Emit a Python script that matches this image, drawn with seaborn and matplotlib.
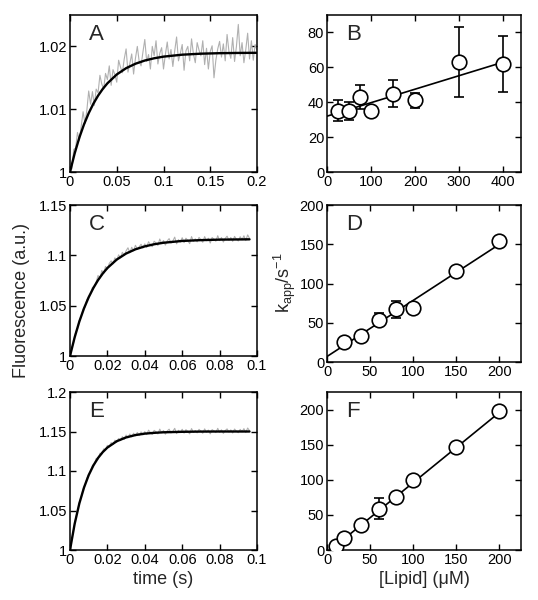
import numpy as np
import pandas as pd
import matplotlib
matplotlib.use('Agg')
import matplotlib.pyplot as plt
import seaborn as sns

# --- panel A: trace (0 - 0.2 s) ---
a_trace = [1.0005, 1.0005, 1.0036, 1.0038, 1.0063, 1.0050, 1.0073, 1.0096, 1.0077, 1.0098,
           1.0129, 1.0108, 1.0128, 1.0106, 1.0132, 1.0126, 1.0154, 1.0140, 1.0132, 1.0157,
           1.0147, 1.0169, 1.0138, 1.0163, 1.0155, 1.0143, 1.0178, 1.0167, 1.0158, 1.0180,
           1.0196, 1.0159, 1.0173, 1.0188, 1.0156, 1.0181, 1.0200, 1.0176, 1.0169, 1.0191,
           1.0211, 1.0176, 1.0187, 1.0164, 1.0200, 1.0185, 1.0209, 1.0172, 1.0189, 1.0198,
           1.0164, 1.0187, 1.0207, 1.0180, 1.0195, 1.0168, 1.0193, 1.0215, 1.0177, 1.0189,
           1.0203, 1.0162, 1.0193, 1.0200, 1.0177, 1.0212, 1.0188, 1.0174, 1.0206, 1.0194,
           1.0185, 1.0209, 1.0171, 1.0197, 1.0164, 1.0192, 1.0201, 1.0150, 1.0178, 1.0196,
           1.0208, 1.0183, 1.0204, 1.0177, 1.0219, 1.0192, 1.0181, 1.0214, 1.0176, 1.0200,
           1.0235, 1.0185, 1.0206, 1.0174, 1.0195, 1.0221, 1.0180, 1.0209, 1.0178, 1.0203,
           1.0194]
a_fit_t = [0, 0.005, 0.01, 0.015, 0.02, 0.025, 0.03, 0.035, 0.04, 0.05, 0.06, 0.07,
           0.08, 0.09, 0.10, 0.12, 0.14, 0.16, 0.18, 0.20]
a_fit = [1.0, 1.00297, 1.00548, 1.00759, 1.00937, 1.01088, 1.01215, 1.01322, 1.01412,
         1.01553, 1.01653, 1.01724, 1.01775, 1.01811, 1.01837, 1.01868, 1.01884, 1.01892,
         1.01896, 1.01898]

# --- panel C: trace (0 - 0.096 s) ---
c_trace = [1.0005, 1.0085, 1.0140, 1.0235, 1.0270, 1.0355, 1.0390, 1.0465, 1.0485, 1.0560,
           1.0590, 1.0615, 1.0680, 1.0690, 1.0735, 1.0800, 1.0770, 1.0850, 1.0820, 1.0890,
           1.0862, 1.0920, 1.0945, 1.0915, 1.0975, 1.0950, 1.1005, 1.0975, 1.1030, 1.1000,
           1.1045, 1.1075, 1.1025, 1.1080, 1.1045, 1.1100, 1.1060, 1.1085, 1.1110, 1.1072,
           1.1114, 1.1078, 1.1135, 1.1106, 1.1086, 1.1140, 1.1123, 1.1098, 1.1162, 1.1117,
           1.1147, 1.1102, 1.1143, 1.1166, 1.1121, 1.1143, 1.1181, 1.1114, 1.1156, 1.1131,
           1.1175, 1.1126, 1.1170, 1.1146, 1.1116, 1.1186, 1.1139, 1.1164, 1.1134, 1.1178,
           1.1155, 1.1130, 1.1186, 1.1145, 1.1170, 1.1122, 1.1177, 1.1159, 1.1140, 1.1195,
           1.1146, 1.1177, 1.1132, 1.1168, 1.1190, 1.1149, 1.1177, 1.1139, 1.1188, 1.1160,
           1.1143, 1.1185, 1.1154, 1.1194, 1.1147, 1.1203, 1.1169]
c_fit_t = [0, 0.0025, 0.005, 0.0075, 0.01, 0.0125, 0.015, 0.0175, 0.02, 0.025, 0.03,
           0.035, 0.04, 0.045, 0.05, 0.06, 0.07, 0.08, 0.096]
c_fit = [1.0, 1.0186, 1.0343, 1.0474, 1.0584, 1.0676, 1.0754, 1.0819, 1.0874, 1.0958,
         1.1018, 1.1060, 1.1089, 1.1110, 1.1125, 1.1143, 1.1151, 1.1156, 1.1159]

# --- panel E: trace (0 - 0.096 s) ---
e_trace = [1.0008, 1.0150, 1.0265, 1.0400, 1.0490, 1.0605, 1.0670, 1.0770, 1.0820, 1.0905,
           1.0960, 1.0990, 1.1070, 1.1085, 1.1160, 1.1150, 1.1225, 1.1215, 1.1280, 1.1265,
           1.1325, 1.1305, 1.1360, 1.1335, 1.1390, 1.1365, 1.1412, 1.1385, 1.1435, 1.1400,
           1.1455, 1.1420, 1.1468, 1.1432, 1.1478, 1.1445, 1.1488, 1.1450, 1.1495, 1.1458,
           1.1498, 1.1461, 1.1517, 1.1486, 1.1463, 1.1514, 1.1496, 1.1469, 1.1530, 1.1484,
           1.1512, 1.1466, 1.1507, 1.1529, 1.1482, 1.1502, 1.1540, 1.1473, 1.1515, 1.1490,
           1.1528, 1.1479, 1.1523, 1.1499, 1.1470, 1.1537, 1.1489, 1.1512, 1.1483, 1.1527,
           1.1503, 1.1478, 1.1533, 1.1492, 1.1518, 1.1470, 1.1524, 1.1506, 1.1486, 1.1540,
           1.1490, 1.1521, 1.1476, 1.1512, 1.1533, 1.1492, 1.1520, 1.1481, 1.1531, 1.1503,
           1.1485, 1.1527, 1.1496, 1.1536, 1.1488, 1.1544, 1.1510]
e_fit_t = [0, 0.0025, 0.005, 0.0075, 0.01, 0.0125, 0.015, 0.0175, 0.02, 0.025, 0.03,
           0.035, 0.04, 0.045, 0.05, 0.06, 0.07, 0.08, 0.096]
e_fit = [1.0, 1.0332, 1.0590, 1.0791, 1.0948, 1.1070, 1.1165, 1.1239, 1.1297, 1.1377,
         1.1425, 1.1455, 1.1473, 1.1483, 1.1490, 1.1496, 1.1499, 1.1500, 1.1500]

# --- panels B, D, F: k_app vs lipid ---
b_lipid = [25, 50, 75, 100, 150, 200, 300, 400]
b_kapp = [35, 35, 43, 35, 45, 41, 63, 62]
b_err = [6, 5, 7, 2, 8, 4.5, 20, 16]
b_fit_x = [0, 400]
b_fit_y = [32, 63]

d_lipid = [20, 40, 60, 80, 100, 150, 200]
d_kapp = [25, 33, 54, 67, 69, 116, 154]
d_err = [0, 0, 8, 11, 5, 0, 0]
d_fit_x = [0, 200]
d_fit_y = [7, 150]

f_lipid = [10, 20, 40, 60, 80, 100, 150, 200]
f_kapp = [6, 17, 36, 59, 75, 99, 147, 198]
f_err = [0, 0, 0, 15, 0, 6, 0, 0]
f_fit_x = [8, 200]
f_fit_y = [4, 196]

sns.set_theme(style='ticks')
plt.rcParams['font.family'] = ['Liberation Sans', 'DejaVu Sans']
plt.rcParams['xtick.direction'] = 'in'
plt.rcParams['ytick.direction'] = 'in'
plt.rcParams['xtick.top'] = True
plt.rcParams['ytick.right'] = True
plt.rcParams['axes.unicode_minus'] = False

fig = plt.figure(figsize=(5.38, 6.0), dpi=100)
W, H = 538.0, 600.0


def make_ax(left, right, top, bottom):
    return fig.add_axes([left / W, 1 - bottom / H, (right - left) / W, (bottom - top) / H])


def style(ax, letter):
    for s in ax.spines.values():
        s.set_linewidth(1.1)
        s.set_color('black')
    ax.tick_params(axis='both', which='major', length=4, width=1.0, labelsize=10.5,
                   colors='black', pad=2)
    ax.text(0.1, 0.94, letter, transform=ax.transAxes, fontsize=16, va='top', ha='left')
    ax.set_xlabel('')
    ax.set_ylabel('')


def trace_panel(ax, trace, t_end, fit_t, fit_y):
    t = np.linspace(0, t_end, len(trace))
    sns.lineplot(x=t, y=trace, ax=ax, color='#b0b0b0', linewidth=0.8)
    sns.lineplot(x=fit_t, y=fit_y, ax=ax, color='black', linewidth=1.7)


def kapp_panel(ax, lipid, kapp, err, fit_x, fit_y):
    sns.lineplot(x=fit_x, y=fit_y, ax=ax, color='black', linewidth=1.2)
    e = np.array(err, dtype=float)
    m = e > 0
    ax.errorbar(np.array(lipid)[m], np.array(kapp)[m], yerr=e[m], fmt='none',
                ecolor='black', elinewidth=1.2, capsize=3.5, capthick=1.2, zorder=3)
    sns.scatterplot(x=lipid, y=kapp, ax=ax, s=110, facecolor='white',
                    edgecolor='black', linewidth=1.2, zorder=4)


axA = make_ax(70, 257, 15, 172)
trace_panel(axA, a_trace, 0.2, a_fit_t, a_fit)
axA.set_xlim(0, 0.2)
axA.set_ylim(1, 1.025)
axA.set_xticks([0, 0.05, 0.1, 0.15, 0.2])
axA.set_xticklabels(['0', '0.05', '0.1', '0.15', '0.2'])
axA.set_yticks([1, 1.01, 1.02])
axA.set_yticklabels(['1', '1.01', '1.02'])
style(axA, 'A')

axB = make_ax(327, 521, 15, 172)
kapp_panel(axB, b_lipid, b_kapp, b_err, b_fit_x, b_fit_y)
axB.set_xlim(0, 440)
axB.set_ylim(0, 90)
axB.set_xticks([0, 100, 200, 300, 400])
axB.set_yticks([0, 20, 40, 60, 80])
style(axB, 'B')

axC = make_ax(70, 257, 205, 356)
trace_panel(axC, c_trace, 0.096, c_fit_t, c_fit)
axC.set_xlim(0, 0.1)
axC.set_ylim(1, 1.15)
axC.set_xticks([0, 0.02, 0.04, 0.06, 0.08, 0.1])
axC.set_xticklabels(['0', '0.02', '0.04', '0.06', '0.08', '0.1'])
axC.set_yticks([1, 1.05, 1.1, 1.15])
axC.set_yticklabels(['1', '1.05', '1.1', '1.15'])
style(axC, 'C')

axD = make_ax(327, 521, 205, 362)
kapp_panel(axD, d_lipid, d_kapp, d_err, d_fit_x, d_fit_y)
axD.set_xlim(0, 225)
axD.set_ylim(0, 200)
axD.set_xticks([0, 50, 100, 150, 200])
axD.set_yticks([0, 50, 100, 150, 200])
style(axD, 'D')

axE = make_ax(70, 257, 392, 550)
trace_panel(axE, e_trace, 0.096, e_fit_t, e_fit)
axE.set_xlim(0, 0.1)
axE.set_ylim(1, 1.2)
axE.set_xticks([0, 0.02, 0.04, 0.06, 0.08, 0.1])
axE.set_xticklabels(['0', '0.02', '0.04', '0.06', '0.08', '0.1'])
axE.set_yticks([1, 1.05, 1.1, 1.15, 1.2])
axE.set_yticklabels(['1', '1.05', '1.1', '1.15', '1.2'])
style(axE, 'E')
axE.set_xlabel('time (s)', fontsize=13, labelpad=3)

axF = make_ax(327, 521, 392, 550)
kapp_panel(axF, f_lipid, f_kapp, f_err, f_fit_x, f_fit_y)
axF.set_xlim(0, 225)
axF.set_ylim(0, 225)
axF.set_xticks([0, 50, 100, 150, 200])
axF.set_yticks([0, 50, 100, 150, 200])
style(axF, 'F')
axF.set_xlabel('[Lipid] (\u03bcM)', fontsize=13, labelpad=3)

fig.text(22 / W, 1 - 300 / H, 'Fluorescence (a.u.)', rotation=90, fontsize=13,
         ha='center', va='center')
fig.text(285 / W, 1 - 283 / H, r'k$_{\mathregular{app}}$/s$^{\mathregular{-1}}$',
         rotation=90, fontsize=13, ha='center', va='center')

fig.savefig('out.png', dpi=100)
